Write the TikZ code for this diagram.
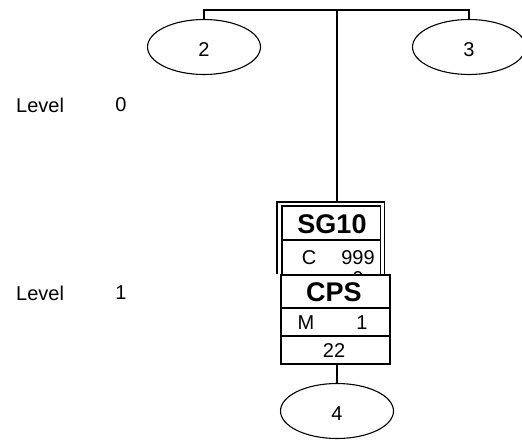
\documentclass[tikz,border=0pt]{standalone}
\usepackage{fontspec}
\setmainfont{Liberation Sans}
\usetikzlibrary{shapes.geometric}
\begin{document}
\begin{tikzpicture}[x=1pt,y=-1pt,
  ell/.style={draw, ellipse, line width=1.1pt, minimum width=113pt, minimum height=55pt, inner sep=0pt},
  conn/.style={line width=2pt},
  boxline/.style={line width=1.8pt},
  txt/.style={inner sep=0pt, font=\fontsize{20}{20}\selectfont},
  btxt/.style={inner sep=0pt, font=\fontsize{27}{27}\selectfont\bfseries}
]
\useasboundingbox (0,0) rectangle (522,441);
% ellipses
\node[ell] (e2) at (204,47) {};
\node[txt] (t2) at (204,50) {2};
\node[ell] (e3) at (469,47) {};
\node[txt] (t3) at (469,50) {3};
\node[ell] (e4) at (337,411) {};
\node[txt] (t4) at (337,414) {4};
% level labels
\node[txt, anchor=west] (lv0) at (16,105) {Level};
\node[txt] (n0) at (121,105) {0};
\node[txt, anchor=west] (lv1) at (16,293) {Level};
\node[txt] (n1) at (121,293) {1};
% SG10 box
\node[inner sep=0pt, minimum width=107pt, minimum height=72pt, anchor=north west] (sg) at (277,202) {};
\draw[boxline] (sg.south west) -- (sg.north west) -- (sg.north east) -- (sg.south east);
\node[inner sep=0pt, minimum width=98pt, minimum height=68pt, anchor=north west] (sgin) at (282,206) {};
\draw[boxline] (sgin.south west) -- (sgin.north west) -- (sgin.north east) -- (sgin.south east);
\coordinate (sgsepL) at (282,240);
\coordinate (sgsepR) at (380,240);
\draw[boxline] (sgsepL) -- (sgsepR);
\node[btxt] (sgt) at (332,224) {SG10};
\node[txt] (sgc) at (309,258) {C};
\node[txt] (sgn) at (358,258) {999};
\node[txt] (sgh) at (358,279) {0};
% CPS box
\node[draw, fill=white, boxline, inner sep=0pt, minimum width=109pt, minimum height=89pt, anchor=north west] (cps) at (280,274) {};
\coordinate (c1L) at (280,308); \coordinate (c1R) at (389,308);
\coordinate (c2L) at (280,336); \coordinate (c2R) at (389,336);
\draw[boxline] (c1L) -- (c1R);
\draw[boxline] (c2L) -- (c2R);
\node[btxt] (cpst) at (334,292) {CPS};
\node[txt] (cm) at (306,323) {M};
\node[txt] (c1) at (362,323) {1};
\node[txt] (c22) at (334,351) {22};
% connectors
\coordinate (barL) at (e2.north |- 0,10);
\coordinate (barR) at (e3.north |- 0,10);
\coordinate (barM) at (e4.north |- 0,10);
\draw[conn] (e2.north) -- (barL) -- (barR) -- (e3.north);
\draw[conn] (barM) -- (barM |- sg.north);
\draw[conn] (e4.north |- cps.south) -- (e4.north);
\end{tikzpicture}
\end{document}
